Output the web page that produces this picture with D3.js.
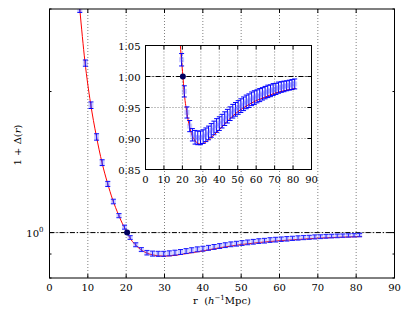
<!DOCTYPE html>
<html>
<head>
<meta charset="utf-8">
<script src="https://cdn.jsdelivr.net/npm/d3@7"></script>
<style>
  body { margin: 0; background: #fff; }
  text { font-family: "DejaVu Serif", serif; font-size: 10px; fill: #000; }
</style>
</head>
<body>
<script>
'use strict';
// measured points (blue, with error bars)
const rPts = [7.9, 9.36, 10.82, 12.28, 13.74, 15.2, 16.66, 18.12, 19.58, 21.04,
  22.5, 23.96, 25.42, 26.88, 28.34, 29.8, 31.26, 32.72, 34.18, 35.64,
  37.1, 38.56, 40.02, 41.48, 42.94, 44.4, 45.86, 47.32, 48.78, 50.24,
  51.7, 53.16, 54.62, 56.08, 57.54, 59.0, 60.46, 61.92, 63.38, 64.84,
  66.3, 67.76, 69.22, 70.68, 72.14, 73.6, 75.06, 76.52, 77.98, 79.44, 80.9];
const vPts = [2.99, 2.30, 1.87, 1.60, 1.41, 1.27, 1.165, 1.087, 1.027, 0.976,
  0.942, 0.920, 0.906, 0.902, 0.901, 0.901, 0.903, 0.906, 0.909, 0.913,
  0.917, 0.921, 0.924, 0.928, 0.932, 0.936, 0.940, 0.944, 0.947, 0.950,
  0.953, 0.956, 0.959, 0.961, 0.964, 0.966, 0.968, 0.970, 0.972, 0.974,
  0.976, 0.977, 0.979, 0.980, 0.982, 0.983, 0.984, 0.985, 0.986, 0.987, 0.988];
const ePts = [0.04, 0.035, 0.03, 0.025, 0.02, 0.016, 0.013, 0.011, 0.01, 0.009,
  0.009, 0.009, 0.01, 0.011, 0.011, 0.011, 0.011, 0.011, 0.011, 0.011,
  0.011, 0.011, 0.011, 0.011, 0.011, 0.011, 0.011, 0.011, 0.011, 0.011,
  0.011, 0.011, 0.011, 0.011, 0.011, 0.011, 0.0105, 0.0105, 0.01, 0.01,
  0.01, 0.0095, 0.0095, 0.009, 0.009, 0.0085, 0.0085, 0.008, 0.008, 0.008, 0.008];
// model curve (red)
const rModel = [7.9, 9.25, 10.7, 12.2, 13.7, 15.1, 16.5, 18.0, 19.4, 20.3, 20.9,
  22.4, 23.8, 25.3, 27, 29.6, 32, 35, 40, 45, 50, 55, 60, 65, 70, 75, 80, 81.5];
const vModel = [3.0, 2.315, 1.89, 1.61, 1.41, 1.278, 1.174, 1.092, 1.030, 1.0, 0.977,
  0.942, 0.920, 0.905, 0.896, 0.891, 0.893, 0.900, 0.914, 0.930, 0.943, 0.953,
  0.961, 0.967, 0.973, 0.977, 0.980, 0.981];
// normalisation point
const rNorm = 20.25, vNorm = 1.0;

const xTicks = [0, 10, 20, 30, 40, 50, 60, 70, 80, 90];
const yMinorTicks = [0.8, 0.9, 2, 3];
const insetYTicks = [0.85, 0.90, 0.95, 1.00, 1.05];

const W = 415, H = 310;
const svg = d3.select('body').append('svg').attr('width', W).attr('height', H);

const x = d3.scaleLinear().domain([0, 90]).range([49.5, 394.5]);
const y = d3.scaleLog().domain([0.8, 3.0]).range([278, 9]);
const xi = d3.scaleLinear().domain([0, 90]).range([145.5, 311.5]);
const yi = d3.scaleLinear().domain([0.85, 1.05]).range([169.5, 45.5]);

function panel(xs, ys, id) {
  const [x0, x1] = xs.range(), [y0, y1] = [ys.range()[1], ys.range()[0]];
  svg.append('clipPath').attr('id', id).append('rect')
    .attr('x', x0).attr('y', y0).attr('width', x1 - x0).attr('height', y1 - y0);
  const g = svg.append('g');
  g.append('rect').attr('x', x0).attr('y', y0).attr('width', x1 - x0).attr('height', y1 - y0)
    .attr('fill', '#fff');
  return { g: g, x0: x0, x1: x1, y0: y0, y1: y1 };
}

function drawContent(p, xs, ys, yGrid, id) {
  const c = p.g.append('g').attr('clip-path', 'url(#' + id + ')');
  // grid
  c.selectAll('.vg').data(xTicks.slice(1, -1)).enter().append('line')
    .attr('x1', d => xs(d)).attr('x2', d => xs(d)).attr('y1', p.y0).attr('y2', p.y1)
    .attr('stroke', '#000').attr('stroke-width', 0.5).attr('stroke-dasharray', '1,2');
  c.selectAll('.hg').data(yGrid).enter().append('line')
    .attr('x1', p.x0).attr('x2', p.x1).attr('y1', d => ys(d)).attr('y2', d => ys(d))
    .attr('stroke', '#000').attr('stroke-width', 0.5).attr('stroke-dasharray', '1,2');
  // dash-dot at 1
  c.append('line').attr('x1', p.x0).attr('x2', p.x1).attr('y1', ys(1)).attr('y2', ys(1))
    .attr('stroke', '#000').attr('stroke-width', 1).attr('stroke-dasharray', '5,2,1.2,2');
  // model
  const line = d3.line().x(d => xs(d[0])).y(d => ys(d[1])).curve(d3.curveMonotoneX);
  c.append('path').datum(d3.zip(rModel, vModel)).attr('d', line)
    .attr('fill', 'none').attr('stroke', '#f00').attr('stroke-width', 1);
  // error bars
  const pts = rPts.map((r, i) => ({ r: r, v: vPts[i], e: ePts[i] }));
  const eb = c.selectAll('.eb').data(pts).enter().append('g');
  eb.append('line').attr('x1', d => xs(d.r)).attr('x2', d => xs(d.r))
    .attr('y1', d => ys(d.v - d.e)).attr('y2', d => ys(d.v + d.e))
    .attr('stroke', '#00f').attr('stroke-width', 1);
  [-1, 1].forEach(s => {
    eb.append('line').attr('x1', d => xs(d.r) - 2.5).attr('x2', d => xs(d.r) + 2.5)
      .attr('y1', d => ys(d.v + s * d.e)).attr('y2', d => ys(d.v + s * d.e))
      .attr('stroke', '#00f').attr('stroke-width', 1);
  });
  eb.append('rect').attr('x', d => xs(d.r) - 2.5).attr('y', d => ys(d.v) - 2.5)
    .attr('width', 5).attr('height', 5).attr('fill', '#6666ff').attr('fill-opacity', 0.35);
  c.append('circle').attr('cx', xs(rNorm)).attr('cy', ys(vNorm)).attr('r', 3)
    .attr('fill', '#000060');
  // frame
  p.g.append('rect').attr('x', p.x0).attr('y', p.y0).attr('width', p.x1 - p.x0)
    .attr('height', p.y1 - p.y0).attr('fill', 'none').attr('stroke', '#000').attr('stroke-width', 1);
  // x ticks (inward, top and bottom)
  xTicks.forEach(t => {
    p.g.append('line').attr('x1', xs(t)).attr('x2', xs(t)).attr('y1', p.y1).attr('y2', p.y1 - 4).attr('stroke', '#000');
    p.g.append('line').attr('x1', xs(t)).attr('x2', xs(t)).attr('y1', p.y0).attr('y2', p.y0 + 4).attr('stroke', '#000');
    p.g.append('text').attr('x', xs(t)).attr('y', p.y1 + 13).attr('text-anchor', 'middle').text(t);
  });
}

// main axes
const pm = panel(x, y, 'clipMain');
drawContent(pm, x, y, [1], 'clipMain');
[[1, 4]].concat(yMinorTicks.map(t => [t, 2])).forEach(([t, len]) => {
  pm.g.append('line').attr('x1', pm.x0).attr('x2', pm.x0 + len).attr('y1', y(t)).attr('y2', y(t)).attr('stroke', '#000');
  pm.g.append('line').attr('x1', pm.x1).attr('x2', pm.x1 - len).attr('y1', y(t)).attr('y2', y(t)).attr('stroke', '#000');
});
const yl = pm.g.append('text').attr('x', pm.x0 - 6).attr('y', y(1) + 4).attr('text-anchor', 'end');
yl.append('tspan').text('10');
yl.append('tspan').attr('dy', -5).style('font-size', '7px').text('0');

svg.append('text').attr('x', (pm.x0 + pm.x1) / 2).attr('y', 304).attr('text-anchor', 'middle')
  .call(t => {
    t.append('tspan').text('r\u00a0\u00a0(');
    t.append('tspan').style('font-style', 'italic').text('h');
    t.append('tspan').attr('dy', -4).style('font-size', '7px').text('\u22121');
    t.append('tspan').attr('dy', 4).text('Mpc)');
  });
svg.append('text').attr('transform', 'translate(21,145) rotate(-90)').attr('text-anchor', 'middle')
  .call(t => {
    t.append('tspan').text('1 + \u0394(');
    t.append('tspan').style('font-style', 'italic').text('r');
    t.append('tspan').text(')');
  });

// inset axes
const pi = panel(xi, yi, 'clipInset');
drawContent(pi, xi, yi, insetYTicks.slice(1, -1), 'clipInset');
insetYTicks.forEach(t => {
  pi.g.append('line').attr('x1', pi.x0).attr('x2', pi.x0 + 4).attr('y1', yi(t)).attr('y2', yi(t)).attr('stroke', '#000');
  pi.g.append('line').attr('x1', pi.x1).attr('x2', pi.x1 - 4).attr('y1', yi(t)).attr('y2', yi(t)).attr('stroke', '#000');
  pi.g.append('text').attr('x', pi.x0 - 5).attr('y', yi(t) + 4).attr('text-anchor', 'end').text(d3.format('.2f')(t));
});
</script>
</body>
</html>
